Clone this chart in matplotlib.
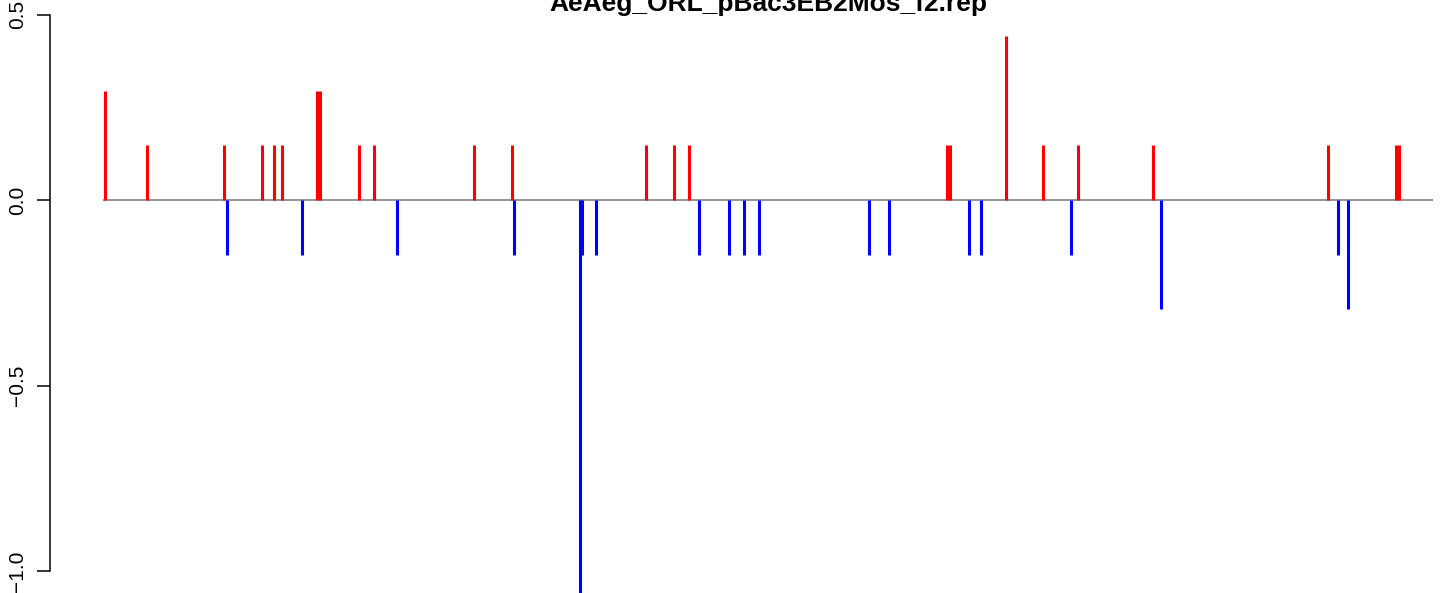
import matplotlib
matplotlib.use("Agg")
import matplotlib.pyplot as plt

plt.rcParams['font.family'] = ['Liberation Sans', 'DejaVu Sans']

title = "AeAeg_ORL_pBac3EB2Mos_f2.rep"

# positions (arbitrary position units) and values
red_x = [105, 147, 224, 262, 274, 282, 317, 319.5, 359, 374, 474, 512, 646, 674, 689,
         946.5, 949.5, 1006, 1043, 1078, 1153, 1328, 1395.5, 1398.5]
red_y = [0.294, 0.147, 0.147, 0.147, 0.147, 0.147, 0.294, 0.294, 0.147, 0.147, 0.147,
         0.147, 0.147, 0.147, 0.147, 0.147, 0.147, 0.441, 0.147, 0.147, 0.147, 0.147,
         0.147, 0.147]

blue_x = [227, 302, 397, 514, 579.5, 581.5, 596, 699, 729, 744, 759, 869, 889, 969, 981,
          1071, 1161, 1338, 1348]
blue_y = [-0.147, -0.147, -0.147, -0.147, -1.10, -0.147, -0.147, -0.147, -0.147, -0.147,
          -0.147, -0.147, -0.147, -0.147, -0.147, -0.147, -0.294, -0.147, -0.294]

baseline_range = [103, 1433]
yticks = [-1.0, -0.5, 0.0, 0.5]
ytick_labels = ["\u22121.0", "\u22120.5", "0.0", "0.5"]

W, H = 1444, 593
dpi = 100
fig = plt.figure(figsize=(W / dpi, H / dpi), dpi=dpi)
left_px = 50
ax = fig.add_axes([left_px / W, 0, 1 - left_px / W, 1])
ax.set_xlim(left_px, W)
ppu = 371.0  # pixels per unit
ax.set_ylim(-(H - 200) / ppu, 200 / ppu)

ax.hlines(0, baseline_range[0], baseline_range[1], color='#8c8c8c', lw=1.3, zorder=1)
ax.vlines(red_x, 0, red_y, color='#ff0000', lw=2.2, zorder=2)
ax.vlines(blue_x, 0, blue_y, color='#0000ff', lw=2.2, zorder=2)

for s in ['top', 'right', 'bottom']:
    ax.spines[s].set_visible(False)
ax.spines['left'].set_bounds(-1.0, 0.5)
ax.spines['left'].set_linewidth(1.1)
ax.set_xticks([])
ax.set_yticks(yticks)
ax.set_yticklabels([])
ax.tick_params(axis='y', length=9.2, width=1.1, direction='out')

for v, lab in zip(yticks, ytick_labels):
    yfig = (200 - v * ppu)
    fig.text(18 / W, 1 - yfig / H, lab, rotation=90, ha='center', va='center', fontsize=15)

fig.text(768 / W, 1 - 11 / H, title, ha='center', va='baseline', fontsize=19,
         fontweight='bold')

fig.savefig("out.png", dpi=dpi)
